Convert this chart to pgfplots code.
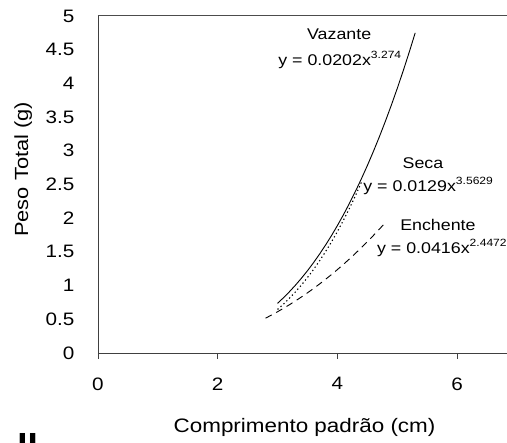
\documentclass[border=0pt]{standalone}
\usepackage{pgfplots}
\pgfplotsset{compat=1.18}
\usepackage{fontspec}
\setmainfont[FakeStretch=1.15]{Liberation Sans}
\newcommand{\expo}[1]{\raisebox{0.42em}{\fontsize{10.5}{11}\selectfont #1}}
\begin{document}
\begin{tikzpicture}[x=1pt,y=1pt]
\useasboundingbox (-98,-90) rectangle (409,353);
\begin{axis}[
  at={(0,0)}, anchor=south west,
  scale only axis, width=409pt, height=337pt,
  xmin=0, xmax=6.834, ymin=0, ymax=5,
  axis x line*=bottom, axis y line*=left,
  axis line style={-, black!75, line width=0.8pt},
  xtick={0,2,4,6}, ytick={0,0.5,...,5},
  tick align=outside,
  xtick style={black!75, line width=0.8pt},
  major tick length=6pt,
  ytick style={draw=none},
  /pgf/number format/assume math mode=true,
  tick label style={font=\fontsize{18}{20}\selectfont},
  xticklabel style={yshift=-15pt},
  yticklabel style={xshift=-14pt},
  yticklabel style={/pgf/number format/fixed},
  xlabel={Comprimento padrão (cm)},
  ylabel={Peso Total (g)},
  every axis x label/.style={at={(axis description cs:0.505,-0.22)}, anchor=center, font=\fontsize{19.5}{21}\selectfont},
  every axis y label/.style={at={(axis description cs:-0.183,0.545)}, anchor=center, rotate=90, font=\fontsize{19}{21}\selectfont},
  clip=false,
]
% Vazante
\addplot[black, line width=0.9pt] coordinates {
(3.0,0.7369)(3.1,0.8205)(3.2,0.9105)(3.3,1.0068)(3.4,1.1102)(3.5,1.2207)
(3.6,1.3387)(3.7,1.4645)(3.8,1.5980)(3.9,1.7400)(4.0,1.8903)(4.1,2.0495)
(4.2,2.2178)(4.3,2.3953)(4.4,2.5824)(4.5,2.7797)(4.6,2.9872)(4.7,3.2049)
(4.8,3.4338)(4.9,3.6738)(5.0,3.9247)(5.1,4.1875)(5.2,4.4626)(5.3,4.7494)};
% Seca
\addplot[black, line width=1.1pt, dash pattern=on 1.3pt off 2.7pt] coordinates {
(3.0,0.6464)(3.1,0.7266)(3.2,0.8136)(3.3,0.9078)(3.4,1.0097)(3.5,1.1195)
(3.6,1.2377)(3.7,1.3647)(3.8,1.5008)(3.9,1.6462)(4.0,1.8015)(4.1,1.9673)
(4.2,2.1436)(4.3,2.3312)(4.4,2.5300)};
% Enchente
\addplot[black, line width=0.9pt, dash pattern=on 7pt off 5pt] coordinates {
(2.8,0.5169)(2.9,0.5633)(3.0,0.6119)(3.1,0.6631)(3.2,0.7167)(3.3,0.7727)
(3.4,0.8312)(3.5,0.8924)(3.6,0.9561)(3.7,1.0223)(3.8,1.0913)(3.9,1.1629)
(4.0,1.2372)(4.1,1.3143)(4.2,1.3941)(4.3,1.4768)(4.4,1.5623)(4.5,1.6506)
(4.6,1.7418)(4.7,1.8359)(4.8,1.9329)};
\draw[black!70, line width=1pt] (rel axis cs:0,1) -- (rel axis cs:1,1);
\begin{scope}[every node/.style={font=\fontsize{15.5}{17}\selectfont, inner sep=0}]
\node at (axis cs:4.03,4.73) {Vazante};
\node[anchor=west] at (axis cs:3.01,4.35) {y = 0.0202x\expo{3.274}};
\node at (axis cs:5.43,2.82) {Seca};
\node[anchor=west] at (axis cs:4.43,2.48) {y = 0.0129x\expo{3.5629}};
\node at (axis cs:5.68,1.90) {Enchente};
\node[anchor=west] at (axis cs:4.66,1.56) {y = 0.0416x\expo{2.4472}};
\end{scope}
\end{axis}
\node[anchor=north, inner sep=0, font=\bfseries\fontsize{32}{34}\selectfont] at (-70.5,-80) {II};
\end{tikzpicture}
\end{document}
